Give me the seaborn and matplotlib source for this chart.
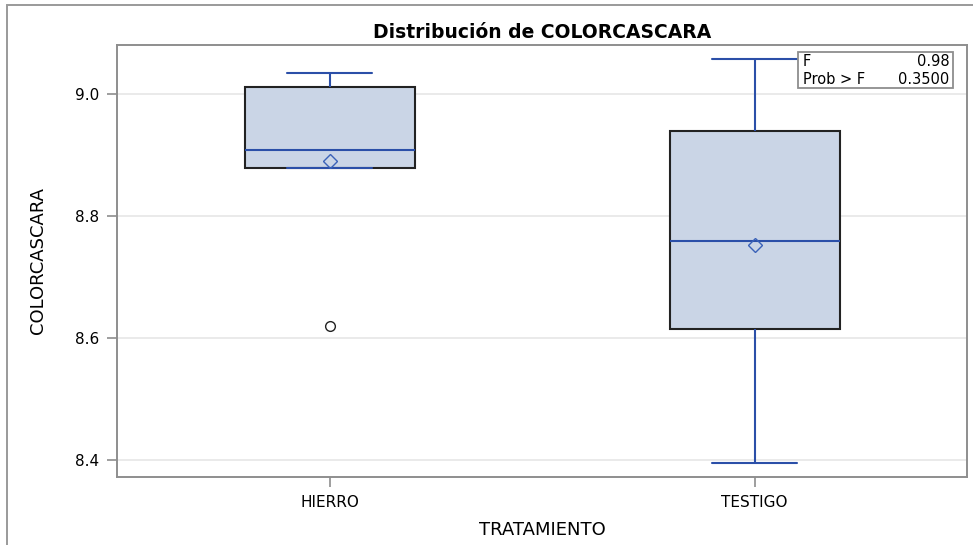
import matplotlib
matplotlib.use("Agg")
import matplotlib.pyplot as plt
import seaborn as sns
import pandas as pd
from matplotlib.patches import Rectangle

# datos por tratamiento
tratamientos = ["HIERRO", "TESTIGO"]
hierro = [8.620, 8.879, 8.908, 9.011, 9.034]
testigo = [8.395, 8.615, 8.759, 8.939, 9.057]
y_ticks = [8.4, 8.6, 8.8, 9.0]
f_valor = "0.98"
prob_f = "0.3500"

df = pd.DataFrame({
    "TRATAMIENTO": ["HIERRO"] * len(hierro) + ["TESTIGO"] * len(testigo),
    "COLORCASCARA": hierro + testigo,
})

sns.set_style("white")
plt.rcParams['font.family'] = ['DejaVu Sans']
plt.rcParams['text.color'] = "black"
plt.rcParams['axes.labelcolor'] = "black"

azul = "#2B4FA8"
fig = plt.figure(figsize=(9.73, 5.45), dpi=100)
ax = fig.add_axes([117 / 973, 1 - 477 / 545, 850 / 973, 432 / 545])

sns.boxplot(data=df, x="TRATAMIENTO", y="COLORCASCARA", order=tratamientos,
            width=0.4, color="#CAD5E6", ax=ax, showmeans=True, zorder=3,
            boxprops=dict(facecolor="#CAD5E6", edgecolor="#222222", linewidth=1.5),
            whiskerprops=dict(color=azul, linewidth=1.5),
            capprops=dict(color=azul, linewidth=1.5),
            medianprops=dict(color=azul, linewidth=1.5),
            meanprops=dict(marker="D", markerfacecolor="none", markeredgecolor="#3A62B8",
                           markersize=7.5, markeredgewidth=1.0),
            flierprops=dict(marker="o", markerfacecolor="none", markeredgecolor="#222222",
                            markersize=7, markeredgewidth=1.0))

ax.set_xlim(-0.5, 1.5)
ax.set_ylim(8.372, 9.080)
ax.set_yticks(y_ticks)
ax.set_yticklabels([f"{v:.1f}" for v in y_ticks])
ax.yaxis.grid(True, color="#E6E6E6", linewidth=1.2, zorder=0)
ax.set_axisbelow(True)
for s in ax.spines.values():
    s.set_color("#8E8E8E")
    s.set_linewidth(1.4)
ax.tick_params(axis="both", bottom=True, left=True, length=7, width=1.2,
               color="#8E8E8E", direction="out", labelsize=11, labelcolor="black")
ax.tick_params(axis="y", pad=6)
ax.tick_params(axis="x", pad=6)

ax.set_xlabel("TRATAMIENTO", fontsize=13, labelpad=8)
ax.set_ylabel("COLORCASCARA", fontsize=13, labelpad=20)
ax.set_title("Distribución de COLORCASCARA", fontsize=13.5, fontweight="bold", pad=5)

# cuadro con estadístico F
ax.add_patch(Rectangle((0.801, 0.9), 0.183, 0.084, transform=ax.transAxes,
                       facecolor="white", edgecolor="#8E8E8E", linewidth=1.3, zorder=5))
ax.text(0.807, 0.962, "F", transform=ax.transAxes, fontsize=10.5, va="center", zorder=6)
ax.text(0.979, 0.962, f_valor, transform=ax.transAxes, fontsize=10.5, va="center",
        ha="right", zorder=6)
ax.text(0.807, 0.921, "Prob > F", transform=ax.transAxes, fontsize=10.5, va="center", zorder=6)
ax.text(0.979, 0.921, prob_f, transform=ax.transAxes, fontsize=10.5, va="center",
        ha="right", zorder=6)

# marco exterior
fig.patches.append(Rectangle((7 / 973, -0.05), 1.1, 1.05 - 5 / 545, transform=fig.transFigure,
                             facecolor="none", edgecolor="#9A9A9A", linewidth=1.4))

fig.savefig("out.png", dpi=100)
